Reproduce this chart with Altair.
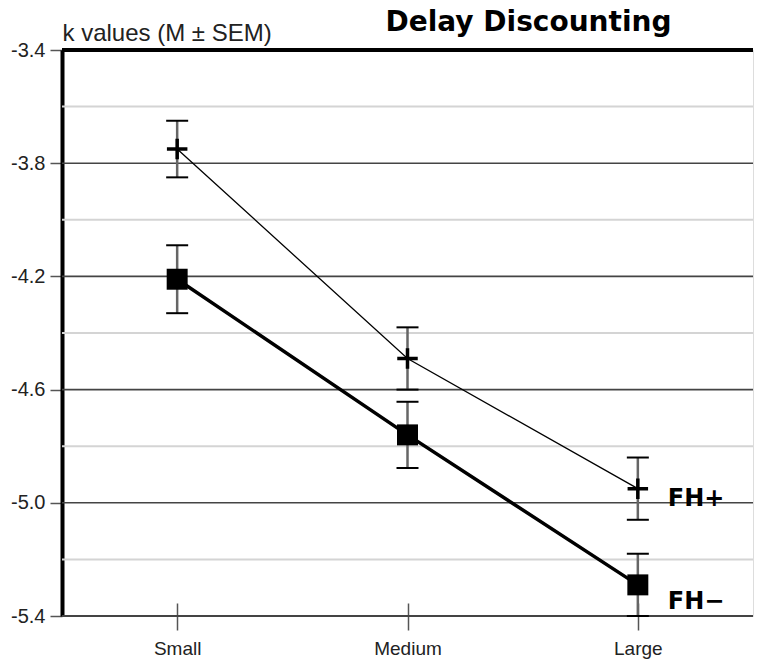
import altair as alt
import pandas as pd

categories = ["Small", "Medium", "Large"]
fh_plus_mean = [-3.75, -4.49, -4.95]
fh_plus_sem = [0.10, 0.11, 0.11]
fh_minus_mean = [-4.21, -4.76, -5.29]
fh_minus_sem = [0.12, 0.117, 0.11]

major_ticks = [-5.4, -5.0, -4.6, -4.2, -3.8, -3.4]
major_grid = [-5.0, -4.6, -4.2, -3.8]
minor_grid = [-5.2, -4.8, -4.4, -4.0, -3.6]

def series(means, sems, name):
    return pd.DataFrame({
        "cat": categories,
        "val": means,
        "lo": [m - s for m, s in zip(means, sems)],
        "hi": [m + s for m, s in zip(means, sems)],
        "group": name,
    })

plus_df = series(fh_plus_mean, fh_plus_sem, "FH+")
minus_df = series(fh_minus_mean, fh_minus_sem, "FH−")

yscale = alt.Scale(domain=[-5.4, -3.4], nice=False, zero=False)
yaxis = alt.Axis(
    values=major_ticks, grid=False, domain=True, domainWidth=4, domainColor="black",
    tickSize=12, tickColor="#555", tickWidth=1.5,
    labelFont="Liberation Sans", labelFontSize=20, labelColor="#222", labelPadding=5,
    labelExpr="replace(format(datum.value, '.1f'), '\u2212', '-')",
    title="k values (M ± SEM)", titleAngle=0, titleX=0, titleY=-10,
    titleAlign="left", titleBaseline="alphabetic", titleFont="Liberation Sans",
    titleFontSize=24, titleFontWeight="normal", titleColor="#222",
)
xscale = alt.Scale(type="point", domain=categories, padding=0.5)
xaxis = alt.Axis(
    title=None, domain=False, grid=False, tickSize=27, tickColor="#555", tickWidth=1.5,
    offset=-13, labelPadding=9, labelAngle=0, labelFont="Liberation Sans",
    labelFontSize=19, labelColor="#222",
)

def Y(field="val"):
    return alt.Y(f"{field}:Q", scale=yscale, axis=yaxis)

def X():
    return alt.X("cat:N", scale=xscale, axis=xaxis, sort=categories)

minor = alt.Chart(pd.DataFrame({"val": minor_grid})).mark_rule(
    color="#d4d4d4", strokeWidth=2).encode(y=Y())
major = alt.Chart(pd.DataFrame({"val": major_grid})).mark_rule(
    color="#444", strokeWidth=1.6).encode(y=Y())
bottom = alt.Chart(pd.DataFrame({"val": [major_ticks[0]]})).mark_rule(
    color="#444", strokeWidth=2).encode(y=Y())
top = alt.Chart(pd.DataFrame({"val": [major_ticks[-1]]})).mark_rule(
    color="black", strokeWidth=4).encode(y=Y())

def layers(df, line_w, marker):
    base = alt.Chart(df)
    line = base.mark_line(color="black", strokeWidth=line_w).encode(x=X(), y=Y())
    bar = base.mark_rule(color="#666", strokeWidth=2.5).encode(
        x=X(), y=Y("lo"), y2="hi:Q")
    cap_lo = base.mark_tick(color="black", size=22, thickness=2, opacity=1).encode(x=X(), y=Y("lo"))
    cap_hi = base.mark_tick(color="black", size=22, thickness=2, opacity=1).encode(x=X(), y=Y("hi"))
    return [line, bar, cap_lo, cap_hi, marker(base)]

plus_marker = lambda b: b.mark_point(
    shape="M-1,0L1,0M0,-1L0,1", size=420, filled=False, color="black", strokeWidth=3.5, opacity=1
).encode(x=X(), y=Y())
square_marker = lambda b: b.mark_point(
    shape="square", size=440, filled=True, color="black", opacity=1
).encode(x=X(), y=Y())

label_style = dict(align="left", baseline="middle", font="DejaVu Sans",
                   fontSize=24, fontWeight="bold", color="black", dx=30)
plus_label = alt.Chart(plus_df[plus_df.cat == "Large"]).mark_text(dy=10, **label_style).encode(
    x=X(), y=Y(), text="group:N")
minus_label = alt.Chart(minus_df[minus_df.cat == "Large"]).mark_text(dy=17, **label_style).encode(
    x=X(), y=Y(), text="group:N")

chart = alt.layer(
    minor, major, bottom,
    *layers(plus_df, 1.3, plus_marker),
    *layers(minus_df, 3.5, square_marker),
    top, plus_label, minus_label,
).properties(
    width=691, height=566,
    padding={"left": 54, "top": 42, "right": 1, "bottom": 44},
    autosize=alt.AutoSizeParams(type="none"),
    title=alt.TitleParams("Delay Discounting", font="DejaVu Sans", fontSize=28,
                          fontWeight="bold", anchor="middle", dx=121, dy=38, offset=0,
                          baseline="alphabetic", frame="group", color="black"),
).configure_view(stroke=None).configure(background="white")

chart.save("out.html", embed_options={"renderer": "svg", "actions": False})
